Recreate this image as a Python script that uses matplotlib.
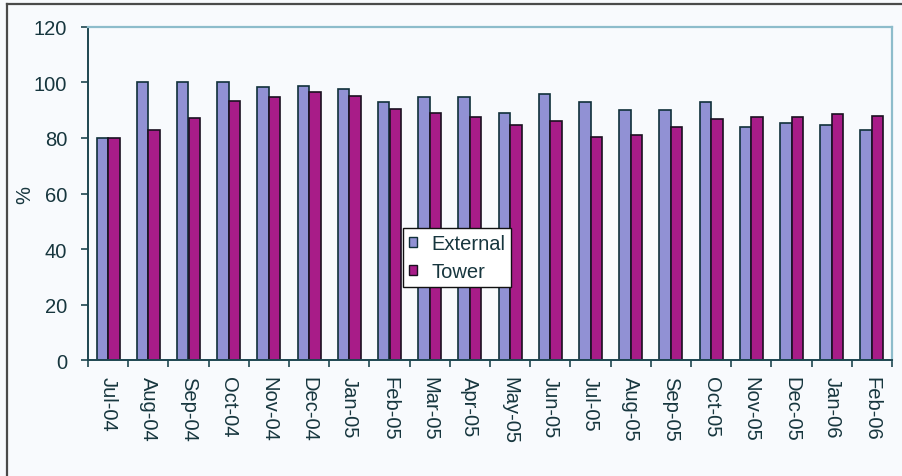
import matplotlib

matplotlib.use("Agg")

import matplotlib.pyplot as plt
import numpy as np
from matplotlib.lines import Line2D
from matplotlib.patches import Rectangle

months = [
    "Jul-04", "Aug-04", "Sep-04", "Oct-04", "Nov-04", "Dec-04", "Jan-05",
    "Feb-05", "Mar-05", "Apr-05", "May-05", "Jun-05", "Jul-05", "Aug-05",
    "Sep-05", "Oct-05", "Nov-05", "Dec-05", "Jan-06", "Feb-06",
]
external = [80, 100, 100, 100, 98.2, 98.8, 97.6, 93, 94.7, 94.7, 88.9,
            95.9, 93, 90, 90, 92.8, 84, 85.4, 84.7, 82.9]
tower = [80, 82.9, 87, 93.4, 94.7, 96.4, 95.2, 90.3, 88.9, 87.6, 84.7,
         86, 80.4, 81.1, 84, 86.8, 87.5, 87.4, 88.6, 88]
y_ticks = [0, 20, 40, 60, 80, 100, 120]

BACKGROUND = "#f8fafd"
TEXT = "#17363e"
AXIS = "#1e4650"
EXTERNAL_COLOR = "#9191d4"
TOWER_COLOR = "#a81c88"
FONT = ["Liberation Sans", "DejaVu Sans"]
FONT_SIZE = 14.5

plt.rcParams["font.family"] = FONT

fig = plt.figure(figsize=(9.02, 4.77), dpi=100)
fig.patch.set_facecolor(BACKGROUND)

# outer frame: only the top and left edges show
fig.add_artist(Line2D([6.5 / 902, 6.5 / 902], [0, 1 - 5 / 477],
                      transform=fig.transFigure, color="#4a4a4a", lw=1.6))
fig.add_artist(Line2D([6.5 / 902, 1], [1 - 5 / 477, 1 - 5 / 477],
                      transform=fig.transFigure, color="#4a4a4a", lw=1.6))

left, right = 88 / 902, 892 / 902
bottom, top = (477 - 361.3) / 477, (477 - 27.7) / 477
ax = fig.add_axes([left, bottom, right - left, top - bottom])
ax.set_facecolor(BACKGROUND)

x = np.arange(len(months))
width = 0.286
ax.bar(x - width / 2, external, width, color=EXTERNAL_COLOR,
       edgecolor="#10303a", linewidth=1.2, label="External", zorder=2)
ax.bar(x + width / 2, tower, width, color=TOWER_COLOR,
       edgecolor="#1a1020", linewidth=1.2, label="Tower", zorder=2)

ax.set_xlim(-0.5, len(months) - 0.5)
ax.set_ylim(0, 120)

ax.set_yticks(y_ticks)
ax.set_yticklabels([str(v) for v in y_ticks], fontsize=FONT_SIZE, color=TEXT)

# category ticks sit on the boundaries between months
ax.set_xticks(np.arange(len(months) + 1) - 0.5)
ax.set_xticklabels([])
ax.set_xticks(x, minor=True)
ax.set_xticklabels(months, minor=True, rotation=-90, fontsize=FONT_SIZE,
                   color=TEXT, va="top", ha="center")
ax.tick_params(axis="x", which="minor", length=0, pad=11)
ax.tick_params(axis="x", which="major", length=5, width=1.2, color=AXIS,
               direction="out")
ax.tick_params(axis="y", length=5, width=1.2, color=AXIS, pad=10)

for side in ("left", "bottom"):
    ax.spines[side].set_color(AXIS)
    ax.spines[side].set_linewidth(1.4)
for side in ("top", "right"):
    ax.spines[side].set_color("#8dbccb")
    ax.spines[side].set_linewidth(1.6)

fig.text(25 / 902, 1 - 195 / 477, "%", rotation=90, ha="center", va="center",
         fontsize=FONT_SIZE, color=TEXT)

handles = [
    Rectangle((0, 0), 1, 1, facecolor=EXTERNAL_COLOR, edgecolor="#10303a", lw=1.0),
    Rectangle((0, 0), 1, 1, facecolor=TOWER_COLOR, edgecolor="#1a1020", lw=1.0),
]
legend = ax.legend(
    handles, ["External", "Tower"],
    loc="lower left",
    bbox_to_anchor=(0.392, 0.219),
    borderaxespad=0,
    fontsize=FONT_SIZE,
    frameon=True,
    fancybox=False,
    handlelength=0.4,
    handleheight=0.4,
    handletextpad=0.7,
    labelspacing=0.45,
    borderpad=0.3,
)
legend.get_frame().set_edgecolor("#111111")
legend.get_frame().set_linewidth(1.0)
legend.get_frame().set_facecolor("white")
legend.get_frame().set_alpha(1)
for text in legend.get_texts():
    text.set_color(TEXT)

fig.savefig("out.png", dpi=100, facecolor=fig.get_facecolor())
